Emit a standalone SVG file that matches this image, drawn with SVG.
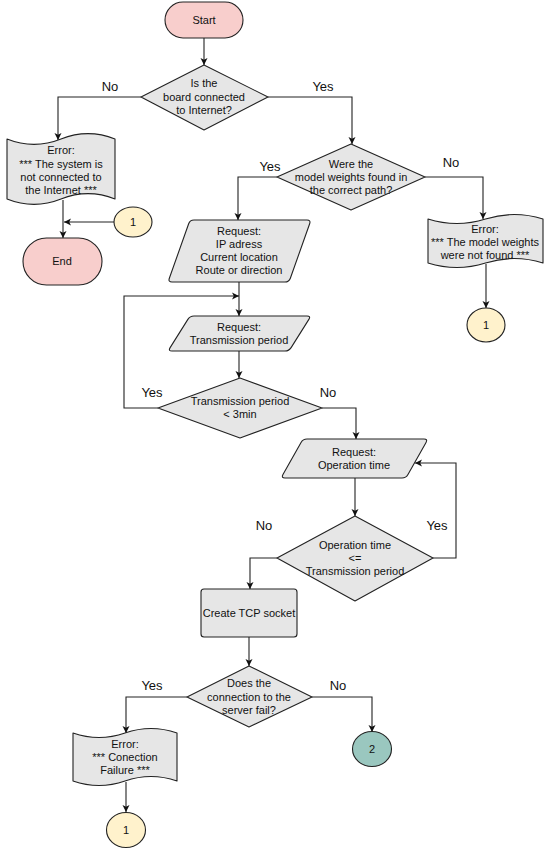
<svg xmlns="http://www.w3.org/2000/svg" width="550" height="856" viewBox="0 0 550 856">
<defs>
<marker id="arr" markerWidth="8" markerHeight="8" refX="7" refY="4" orient="auto" markerUnits="userSpaceOnUse">
<path d="M0,0.5 L7,4 L0,7.5 L1.8,4 Z" fill="#111"/>
</marker>
<style>
.n{fill:#E6E6E6;stroke:#222;stroke-width:1.1;stroke-linejoin:round}
.term{fill:#F8CECC;stroke:#222;stroke-width:1.1}
.c1{fill:#FFF2CC;stroke:#222;stroke-width:1.1}
.c2{fill:#9AC7BF;stroke:#222;stroke-width:1.1}
.e{fill:none;stroke:#222;stroke-width:1.1;marker-end:url(#arr)}
text{font-family:"Liberation Sans",Arial,sans-serif;fill:#111;text-anchor:middle}
.t{font-size:11px}
.lb{font-size:13px}
</style>
</defs>
<rect width="550" height="856" fill="#fff"/>

<g id="edges">
<path class="e" d="M204,38 V65"/>
<path class="e" d="M141,97 H58 V140"/>
<path class="e" d="M268,97 H352 V144"/>
<path class="e" d="M63,200 V238"/>
<path class="e" d="M114,222 H64"/>
<path class="e" d="M277,177 H238 V220"/>
<path class="e" d="M425,177 H483 V219"/>
<path class="e" d="M486,264 V308"/>
<path class="e" d="M239,282 V316"/>
<path class="e" d="M158,408 H124 V296 H239"/>
<path class="e" d="M239,351 V378"/>
<path class="e" d="M322,408 H356 V439"/>
<path class="e" d="M355,478 V516"/>
<path class="e" d="M433,558 H456 V463 H415"/>
<path class="e" d="M277,558 H250 V589"/>
<path class="e" d="M249,637 V666"/>
<path class="e" d="M187,697 H126 V733"/>
<path class="e" d="M312,697 H372 V732"/>
<path class="e" d="M126,782 V812"/>
<text class="lb" x="110" y="91">No</text>
<text class="lb" x="323" y="91">Yes</text>
<text class="lb" x="270" y="171">Yes</text>
<text class="lb" x="451" y="167">No</text>
<text class="lb" x="152" y="397">Yes</text>
<text class="lb" x="328" y="397">No</text>
<text class="lb" x="264" y="530">No</text>
<text class="lb" x="437" y="530">Yes</text>
<text class="lb" x="152" y="690">Yes</text>
<text class="lb" x="338" y="690">No</text>
</g>

<g id="start">
<rect class="term" x="165" y="2" width="78" height="36" rx="18" ry="18"/>
<text class="t" x="204" y="24">Start</text>
</g>

<g id="d1">
<polygon class="n" points="204,65 268,97 204,130 141,97"/>
<text class="t" x="204" y="87">Is the</text>
<text class="t" x="204" y="101">board connected</text>
<text class="t" x="204" y="114">to Internet?</text>
</g>

<g id="err1">
<path class="n" d="M7,139 Q34,149.8 61,139 Q88,128.2 115,139 L115,199 Q88,188.2 61,199 Q34,209.8 7,199 Z"/>
<text class="t" x="61" y="154">Error:</text>
<text class="t" x="61" y="168">*** The system is</text>
<text class="t" x="61" y="181">not connected to</text>
<text class="t" x="61" y="194">the Internet ***</text>
</g>

<g id="conn1a">
<ellipse class="c1" cx="133" cy="222" rx="19" ry="15"/>
<text class="t" x="133" y="226">1</text>
</g>

<g id="end">
<rect class="term" x="23" y="238" width="79" height="47" rx="23.5" ry="23.5"/>
<text class="t" x="62" y="265">End</text>
</g>

<g id="d2">
<polygon class="n" points="351,144 425,177 351,210 277,177"/>
<text class="t" x="351" y="168">Were the</text>
<text class="t" x="351" y="181">model weights found in</text>
<text class="t" x="351" y="194">the correct path?</text>
</g>

<g id="err2">
<path class="n" d="M428,219 Q456.75,228 485.5,219 Q514.25,210 543,219 L543,263 Q514.25,254 485.5,263 Q456.75,272 428,263 Z"/>
<text class="t" x="485" y="233">Error:</text>
<text class="t" x="485" y="246">*** The model weights</text>
<text class="t" x="485" y="259">were not found ***</text>
</g>

<g id="conn1b">
<ellipse class="c1" cx="486" cy="325" rx="19" ry="17"/>
<text class="t" x="486" y="329">1</text>
</g>

<g id="p1">
<path class="n" d="M194,220 H307 Q311,220 309.66,223.77 L290.34,278.23 Q289,282 285,282 H172 Q168,282 169.34,278.23 L188.66,223.77 Q190,220 194,220 Z"/>
<text class="t" x="239" y="235">Request:</text>
<text class="t" x="239" y="248">IP adress</text>
<text class="t" x="239" y="261">Current location</text>
<text class="t" x="239" y="274">Route or direction</text>
</g>

<g id="p2">
<path class="n" d="M194,316 H307 Q311,316 308.87,319.39 L291.13,347.61 Q289,351 285,351 H172 Q168,351 170.13,347.61 L187.87,319.39 Q190,316 194,316 Z"/>
<text class="t" x="239" y="331">Request:</text>
<text class="t" x="239" y="344">Transmission period</text>
</g>

<g id="d3">
<polygon class="n" points="240,378 322,408 240,438 158,408"/>
<text class="t" x="240" y="405">Transmission period</text>
<text class="t" x="240" y="418">&lt; 3min</text>
</g>

<g id="p3">
<path class="n" d="M307,439 H424 Q428,439 426.04,442.48 L407.96,474.52 Q406,478 402,478 H285 Q281,478 282.96,474.52 L301.04,442.48 Q303,439 307,439 Z"/>
<text class="t" x="354" y="456">Request:</text>
<text class="t" x="354" y="469">Operation time</text>
</g>

<g id="d4">
<polygon class="n" points="355,516 433,558 355,601 277,558"/>
<text class="t" x="355" y="549">Operation time</text>
<text class="t" x="355" y="562">&lt;=</text>
<text class="t" x="355" y="575">Transmission period</text>
</g>

<g id="tcp">
<rect class="n" x="201" y="589" width="96" height="48" rx="3" ry="3"/>
<text class="t" x="249" y="617">Create TCP socket</text>
</g>

<g id="d5">
<polygon class="n" points="249,666 312,697 249,727 187,697"/>
<text class="t" x="249" y="687">Does the</text>
<text class="t" x="249" y="701">connection to the</text>
<text class="t" x="249" y="714">server fail?</text>
</g>

<g id="err3">
<path class="n" d="M73,733 Q99,742 125,733 Q151,724 177,733 L177,781 Q151,772 125,781 Q99,790 73,781 Z"/>
<text class="t" x="125" y="748">Error:</text>
<text class="t" x="125" y="761">*** Conection</text>
<text class="t" x="125" y="774">Failure ***</text>
</g>

<g id="conn2">
<ellipse class="c2" cx="372" cy="749" rx="19.5" ry="17.5"/>
<text class="t" x="372" y="753">2</text>
</g>

<g id="conn1c">
<ellipse class="c1" cx="126" cy="830" rx="19.5" ry="17.5"/>
<text class="t" x="126" y="834">1</text>
</g>
</svg>
